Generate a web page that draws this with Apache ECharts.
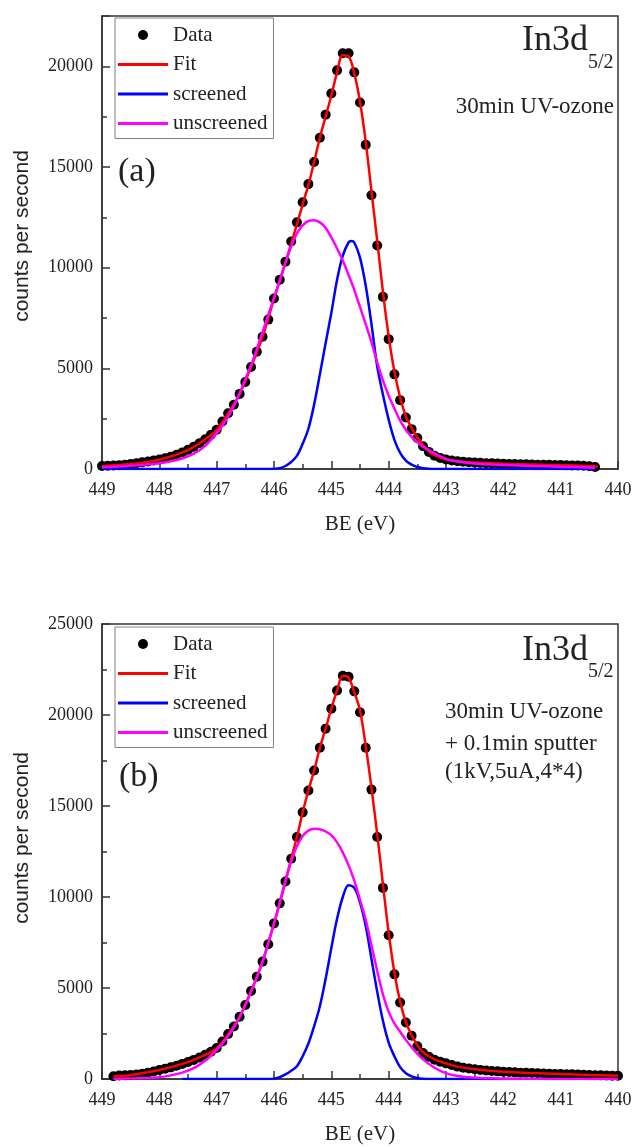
<!DOCTYPE html>
<html><head><meta charset="utf-8">
<script src="https://cdn.jsdelivr.net/npm/echarts@6/dist/echarts.min.js"></script>
<style>html,body{margin:0;padding:0;background:#fff;}#c{width:634px;height:1147px;}</style>
</head><body><div id="c"></div>
<script>
// Binding energy grid (eV), 0.1 eV steps
var BE_GRID = [
449.0,448.9,448.8,448.7,448.6,448.5,448.4,448.3,448.2,448.1,
448.0,447.9,447.8,447.7,447.6,447.5,447.4,447.3,447.2,447.1,
447.0,446.9,446.8,446.7,446.6,446.5,446.4,446.3,446.2,446.1,
446.0,445.9,445.8,445.7,445.6,445.5,445.4,445.3,445.2,445.1,
445.0,444.9,444.8,444.7,444.6,444.5,444.4,444.3,444.2,444.1,
444.0,443.9,443.8,443.7,443.6,443.5,443.4,443.3,443.2,443.1,
443.0,442.9,442.8,442.7,442.6,442.5,442.4,442.3,442.2,442.1,
442.0,441.9,441.8,441.7,441.6,441.5,441.4,441.3,441.2,441.1,
441.0,440.9,440.8,440.7,440.6,440.5,440.4,440.3,440.2,440.1,
440.0];

// Panel (a): 30min UV-ozone — measured points from 449.0 to 440.4 eV
var A_COUNTS = [
150,160,170,190,210,250,290,330,375,420,
470,530,610,710,820,950,1100,1280,1480,1700,
1950,2360,2770,3190,3730,4320,5070,5820,6570,7420,
8470,9400,10300,11300,12250,13250,14150,15250,16450,17600,
18650,19800,20650,20650,19700,18200,16100,13600,11100,8550,
6450,4700,3420,2560,1980,1540,1130,850,660,550,
470,420,385,360,340,320,305,290,280,270,
260,250,245,235,230,225,215,210,205,200,
195,190,180,170,160,140,100];

var A_FIT = [[449.0,140],[448.5,245],[448.0,460],[447.5,940],[447.2,1470],[447.0,1940],[446.8,2760],[446.6,3720],[446.4,5060],[446.2,6560],[446.0,8450],[445.9,9350],[445.8,10250],[445.7,11200],[445.6,12150],[445.5,13150],[445.4,14100],[445.3,15250],[445.2,16450],[445.1,17500],[445.0,18550],[444.9,19700],[444.8,20550],[444.7,20500],[444.6,19650],[444.5,18250],[444.4,16250],[444.3,13800],[444.2,11350],[444.1,8800],[444.0,6600],[443.9,4850],[443.8,3550],[443.7,2620],[443.6,2040],[443.5,1580],[443.4,1180],[443.3,880],[443.2,690],[443.0,480],[442.8,385],[442.5,320],[442.0,260],[441.5,225],[441.0,195],[440.35,120]];

var A_SCREENED = [[449.0,0],[446.1,0],[446.0,10],[445.9,40],[445.8,150],[445.7,350],[445.6,650],[445.5,1250],[445.4,2000],[445.3,3200],[445.2,4700],[445.1,6250],[445.0,7750],[444.9,9400],[444.8,10600],[444.7,11250],[444.65,11320],[444.6,11250],[444.5,10500],[444.4,9100],[444.3,7200],[444.2,5100],[444.1,3700],[444.0,2450],[443.9,1450],[443.8,800],[443.7,420],[443.6,220],[443.5,100],[443.4,40],[443.3,10],[443.2,0],[440.4,0]];

var A_UNSCREENED = [[449.0,85],[448.8,110],[448.6,140],[448.4,180],[448.2,230],[448.0,290],[447.8,380],[447.6,520],[447.4,760],[447.2,1150],[447.0,1780],[446.9,2150],[446.8,2600],[446.7,3150],[446.6,3750],[446.5,4450],[446.4,5150],[446.3,5950],[446.2,6800],[446.1,7650],[446.0,8500],[445.9,9350],[445.8,10250],[445.7,11050],[445.6,11700],[445.5,12100],[445.4,12320],[445.3,12350],[445.2,12250],[445.1,11980],[445.0,11500],[444.9,10950],[444.8,10350],[444.7,9650],[444.6,8900],[444.5,8050],[444.4,7200],[444.3,6300],[444.2,5300],[444.1,4400],[444.0,3650],[443.9,3000],[443.8,2400],[443.7,1950],[443.6,1600],[443.5,1330],[443.4,1110],[443.2,780],[443.0,500],[442.8,370],[442.6,300],[442.4,250],[442.2,220],[442.0,200],[441.5,150],[441.0,115],[440.4,60]];

// Panel (b): 30min UV-ozone + 0.1min sputter — measured points from 448.8 to 440.0 eV
var B_COUNTS = [
150,190,200,220,250,290,340,410,
495,560,640,730,830,930,1050,1180,1330,1500,
1700,2060,2470,2880,3420,4070,4840,5620,6450,7400,
8550,9650,10850,12100,13300,14650,15850,16950,18200,19250,
20350,21350,22150,22100,21300,20150,18200,15900,13300,10500,
7900,5750,4200,3100,2380,1800,1430,1220,1060,950,
860,770,680,620,580,540,500,470,440,420,
400,380,365,350,340,330,315,300,290,280,
275,265,255,245,235,225,210,200,190,185,
180];

var B_FIT = [[448.8,140],[448.5,215],[448.0,490],[447.5,925],[447.2,1320],[447.0,1690],[446.8,2460],[446.6,3410],[446.4,4830],[446.2,6440],[446.0,8540],[445.9,9650],[445.8,10850],[445.7,12100],[445.6,13300],[445.5,14650],[445.4,15850],[445.3,16950],[445.2,18200],[445.1,19250],[445.0,20350],[444.9,21350],[444.8,22150],[444.7,22050],[444.6,21250],[444.5,20250],[444.4,18300],[444.3,16000],[444.2,13450],[444.1,10700],[444.0,8050],[443.9,5850],[443.8,4250],[443.7,3120],[443.6,2420],[443.5,1850],[443.4,1480],[443.3,1250],[443.2,1080],[443.0,860],[442.8,680],[442.5,540],[442.0,400],[441.5,330],[441.0,275],[440.5,225],[440.0,180]];

var B_SCREENED = [[447.6,0],[446.1,0],[446.0,20],[445.9,100],[445.8,250],[445.7,450],[445.6,700],[445.5,1250],[445.4,1950],[445.3,2900],[445.2,4000],[445.1,5500],[445.0,7200],[444.9,8800],[444.8,10000],[444.7,10650],[444.6,10500],[444.5,9700],[444.4,8400],[444.3,6600],[444.2,4800],[444.1,3200],[444.0,2000],[443.9,1250],[443.8,650],[443.7,320],[443.6,140],[443.5,50],[443.4,10],[443.3,0],[441.6,0]];

var B_UNSCREENED = [[448.8,0],[448.4,40],[448.0,100],[447.8,200],[447.6,350],[447.4,600],[447.2,1000],[447.0,1600],[446.8,2350],[446.6,3400],[446.4,4800],[446.2,6450],[446.0,8550],[445.9,9700],[445.8,10900],[445.7,11950],[445.6,12800],[445.5,13350],[445.4,13650],[445.3,13750],[445.2,13720],[445.1,13600],[445.0,13400],[444.9,13000],[444.8,12450],[444.7,11750],[444.6,10900],[444.5,9850],[444.4,8750],[444.3,7350],[444.2,5950],[444.1,4650],[444.0,3700],[443.9,3050],[443.8,2600],[443.7,2150],[443.6,1750],[443.5,1400],[443.4,1080],[443.2,620],[443.0,320],[442.8,160],[442.6,90],[442.4,50],[442.0,20],[441.0,5],[440.0,0]];

var COLORS = {Fit: '#ff0000', screened: '#0000ff', unscreened: '#ff00ff'};

var SERIF = '"Liberation Serif", "Times New Roman", serif';
var AXIS_COLOR = '#333';
var TEXT_COLOR = '#222';
var LINE_ICON = 'path://M0,0H50V3H0Z';

function pairs(xs, ys) { return ys.map(function (y, i) { return [xs[i], y]; }); }
var A_X = BE_GRID.slice(0, A_COUNTS.length);
var B_X = BE_GRID.slice(2, 2 + B_COUNTS.length);

var chart = echarts.init(document.getElementById('c'), null, {renderer: 'canvas'});

function xAxisFor(gi) {
  return {
    type: 'value', gridIndex: gi, min: 440, max: 449, interval: 1, inverse: true,
    name: 'BE (eV)', nameLocation: 'middle', nameGap: 45,
    nameTextStyle: {fontFamily: SERIF, fontSize: 21, color: TEXT_COLOR},
    axisLine: {show: true, onZero: false, lineStyle: {color: AXIS_COLOR, width: 1.5}},
    axisTick: {show: true, inside: true, length: 8, lineStyle: {color: AXIS_COLOR, width: 1.5}},
    minorTick: {show: true, splitNumber: 2, length: 5, lineStyle: {color: AXIS_COLOR, width: 1.5}},
    axisLabel: {fontFamily: SERIF, fontSize: 18, color: TEXT_COLOR, margin: 12, showMinLabel: true, showMaxLabel: true},
    splitLine: {show: false}
  };
}

function yAxisMain(gi, max, step, withLabels, tickLen, minor) {
  return {
    type: 'value', gridIndex: gi, min: 0, max: max, interval: step, position: 'left',
    axisLine: {show: withLabels, onZero: false, lineStyle: {color: AXIS_COLOR, width: 1.5}},
    axisTick: {show: true, inside: true, length: tickLen, lineStyle: {color: AXIS_COLOR, width: 1.5}},
    minorTick: {show: minor, splitNumber: 2, length: 5, lineStyle: {color: AXIS_COLOR, width: 1.5}},
    axisLabel: {show: withLabels, fontFamily: SERIF, fontSize: 18, color: TEXT_COLOR, margin: 9,
      formatter: function (v) { return (v % 5000 === 0) ? String(v) : ''; }},
    splitLine: {show: false}
  };
}

function legendFor(top) {
  return {
    orient: 'vertical', left: 115, top: top,
    padding: [6, 6, 4, 3],
    backgroundColor: '#fff', borderColor: '#808080', borderWidth: 1,
    itemWidth: 50, itemHeight: 10, itemGap: 7.5, itemTextGap: 5,
    symbolKeepAspect: true,
    textStyle: {fontFamily: SERIF, fontSize: 21, color: TEXT_COLOR, lineHeight: 22},
    selectedMode: false,
    data: [
      {name: 'Data', icon: 'circle'},
      {name: 'Fit', icon: LINE_ICON},
      {name: 'screened', icon: LINE_ICON},
      {name: 'unscreened', icon: LINE_ICON}
    ]
  };
}

function panelSeries(xi, yi, dataPts, fit, scr, unscr) {
  var lineBase = function (name, data) {
    return {
      name: name, type: 'line', xAxisIndex: xi, yAxisIndex: yi, data: data,
      smooth: 0.35, symbol: 'none', showSymbol: false, silent: true,
      lineStyle: {color: COLORS[name], width: 2.5}, itemStyle: {color: COLORS[name]}
    };
  };
  return [
    {name: 'Data', type: 'scatter', xAxisIndex: xi, yAxisIndex: yi, data: dataPts,
      symbol: 'circle', symbolSize: 10, itemStyle: {color: '#000', opacity: 1}, silent: true},
    lineBase('Fit', fit), lineBase('screened', scr), lineBase('unscreened', unscr)
  ];
}

function txt(x, y, text, size, align) {
  return {type: 'text', x: x, y: y, silent: true,
    style: {text: text, font: size + 'px ' + SERIF, fill: TEXT_COLOR,
      textAlign: align, align: align, textVerticalAlign: 'middle', verticalAlign: 'middle'}};
}

function yTitle(cy) {
  return {type: 'text', x: 22, y: cy, rotation: Math.PI / 2, silent: true,
    style: {text: 'counts per second', font: '21px "Liberation Sans", Arial, sans-serif', fill: TEXT_COLOR,
      textAlign: 'center', align: 'center', textVerticalAlign: 'middle', verticalAlign: 'middle'}};
}

var option = {
  backgroundColor: '#fff',
  animation: false,
  grid: [
    {left: 102, top: 16, width: 516, height: 453, show: true, borderColor: AXIS_COLOR, borderWidth: 1.5, backgroundColor: 'transparent', outerBoundsMode: 'none'},
    {left: 102, top: 624, width: 516, height: 455, show: true, borderColor: AXIS_COLOR, borderWidth: 1.5, backgroundColor: 'transparent', outerBoundsMode: 'none'}
  ],
  xAxis: [xAxisFor(0), xAxisFor(1)],
  yAxis: [
    yAxisMain(0, 22500, 2500, true, 5, false),
    yAxisMain(0, 22500, 5000, false, 8, false),
    yAxisMain(1, 25000, 5000, true, 8, true)
  ],
  legend: [legendFor(18), legendFor(627)],
  series: [].concat(
    panelSeries(0, 0, pairs(A_X, A_COUNTS), A_FIT, A_SCREENED, A_UNSCREENED),
    panelSeries(1, 2, pairs(B_X, B_COUNTS), B_FIT, B_SCREENED, B_UNSCREENED)
  ),
  graphic: [
    txt(588, 41, 'In3d', 36, 'right'),
    txt(588, 63, '5/2', 20, 'left'),
    txt(614, 107, '30min UV-ozone', 23, 'right'),
    txt(118, 172, '(a)', 34, 'left'),
    txt(588, 651, 'In3d', 36, 'right'),
    txt(588, 672, '5/2', 20, 'left'),
    txt(445, 712, '30min UV-ozone', 23, 'left'),
    txt(445, 744, '+ 0.1min sputter', 23, 'left'),
    txt(445, 772, '(1kV,5uA,4*4)', 23, 'left'),
    txt(119, 777, '(b)', 34, 'left'),
    yTitle(236),
    yTitle(838)
  ]
};
chart.setOption(option);
</script></body></html>
